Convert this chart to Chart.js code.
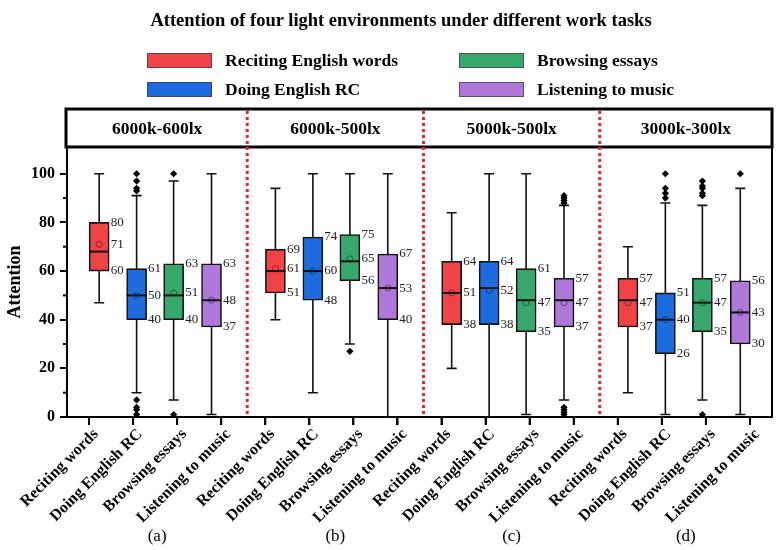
<!DOCTYPE html>
<html>
<head>
<meta charset="utf-8">
<title>Attention of four light environments under different work tasks</title>
<script src="https://cdn.jsdelivr.net/npm/chart.js@4.4.0/dist/chart.umd.min.js"></script>
<style>
  html, body { margin: 0; padding: 0; background: #fff; }
  #wrap { position: relative; width: 782px; height: 550px; font-family: 'Liberation Serif', 'Times New Roman', serif; color: #000; }
  #chart { position: absolute; left: 0; top: 0; }
  #title { position: absolute; left: 0; width: 802px; top: 9px; line-height: 22px; text-align: center; font-weight: bold; font-size: 18.5px; }
  .leg-item { position: absolute; height: 20px; display: flex; align-items: center; font-weight: bold; font-size: 17.5px; white-space: nowrap; }
  .leg-box { width: 63px; height: 13px; margin-right: 13px; border: 1px solid rgba(70, 50, 90, 0.7); }
</style>
</head>
<body>
<div id="wrap">
  <canvas id="chart" width="782" height="550"></canvas>
  <div id="title">Attention of four light environments under different work tasks</div>
  <div id="legend"></div>
</div>
<script>
const groups = ['6000k-600lx', '6000k-500lx', '5000k-500lx', '3000k-300lx'];
const groupTags = ['(a)', '(b)', '(c)', '(d)'];
const tasks = ['Reciting English words', 'Doing English RC', 'Browsing essays', 'Listening to music'];
const taskTicks = ['Reciting words', 'Doing English RC', 'Browsing essays', 'Listening to music'];

// one row per task, one value per light environment (a)..(d)
const whiskerLow  = [[47, 40, 20, 10], [10, 10, 0, 1], [7, 30, 1, 7], [1, 0, 7, 1]];
const q1          = [[60, 51, 38, 37], [40, 48, 38, 26], [40, 56, 35, 35], [37, 40, 37, 30]];
const median      = [[68, 60, 51, 48], [50, 60, 53, 40], [50, 64, 48, 47], [48, 53, 48, 43]];
const mean        = [[71, 61, 51, 47], [50, 60, 52, 40], [51, 65, 47, 47], [48, 53, 47, 43]];
const q3          = [[80, 69, 64, 57], [61, 74, 64, 51], [63, 75, 61, 57], [63, 67, 57, 56]];
const whiskerHigh = [[100, 94, 84, 70], [91, 100, 100, 88], [97, 100, 100, 87], [100, 100, 87, 94]];
const outliers = [
  [[], [], [], []],
  [[100, 97, 94, 93, 7, 4, 3, 1, 0], [], [], [100, 94, 92, 90]],
  [[100, 1], [27], [], [97, 95, 94, 92, 91, 1]],
  [[], [], [91, 90, 89, 88, 4, 3, 2, 1], [100]]
];

// layout / style
const SERIF = "'Liberation Serif', 'Times New Roman', serif";
const colors = ['#EF4347', '#1C6BDF', '#37A86B', '#AF79DC'];
const meanEdge = ['#8c2226', '#123f86', '#1c5e3a', '#5f3a8c'];
const BOX_OFFSETS = [0.23, 1.08, 1.92, 2.78];   // box centres inside a group, in category units
const SEPARATORS = [3.59, 7.59, 11.59];
const CAP = 5;
const boxX = (k, j) => 4 * j + BOX_OFFSETS[k];

// legend in two columns
const legend = document.getElementById('legend');
tasks.forEach((t, i) => {
  const item = document.createElement('div');
  item.className = 'leg-item';
  item.style.left = (i < 2 ? 147 : 459) + 'px';
  item.style.top = (i % 2 === 0 ? 50 : 79) + 'px';
  item.innerHTML = '<span class="leg-box" style="background:' + colors[i] + '"></span>' + t;
  legend.appendChild(item);
});

const boxSets = tasks.map((t, k) => ({
  type: 'bar',
  label: t,
  xAxisID: 'xPos',
  data: groups.map((g, j) => ({ x: boxX(k, j), y: [q1[k][j], q3[k][j]] })),
  backgroundColor: colors[k],
  borderColor: '#111',
  borderWidth: 1.6,
  borderSkipped: false,
  barThickness: 20,
  grouped: false,
  order: 3
}));

const outlierPts = [];
tasks.forEach((t, k) => groups.forEach((g, j) => {
  outliers[k][j].forEach(v => outlierPts.push({ x: boxX(k, j), y: v }));
}));

const meanPts = [];
const meanCols = [];
tasks.forEach((t, k) => groups.forEach((g, j) => {
  meanPts.push({ x: boxX(k, j), y: mean[k][j] });
  meanCols.push(meanEdge[k]);
}));

const decor = {
  id: 'decor',
  beforeDatasetsDraw(chart) {
    const { ctx } = chart;
    const xs = chart.scales.xPos, ys = chart.scales.y;
    ctx.save();
    ctx.strokeStyle = '#111';
    ctx.lineWidth = 1.6;
    tasks.forEach((t, k) => groups.forEach((g, j) => {
      const x = xs.getPixelForValue(boxX(k, j));
      const lo = ys.getPixelForValue(whiskerLow[k][j]);
      const hi = ys.getPixelForValue(whiskerHigh[k][j]);
      ctx.beginPath();
      ctx.moveTo(x, lo); ctx.lineTo(x, hi);
      ctx.moveTo(x - CAP, lo); ctx.lineTo(x + CAP, lo);
      ctx.moveTo(x - CAP, hi); ctx.lineTo(x + CAP, hi);
      ctx.stroke();
    }));
    ctx.restore();
  },
  afterDatasetsDraw(chart) {
    const { ctx } = chart;
    const xs = chart.scales.xPos, ys = chart.scales.y;
    ctx.save();
    ctx.strokeStyle = '#111';
    ctx.lineWidth = 2;
    ctx.fillStyle = '#222';
    ctx.font = '13px ' + SERIF;
    ctx.textBaseline = 'middle';
    ctx.textAlign = 'left';
    tasks.forEach((t, k) => groups.forEach((g, j) => {
      const x = xs.getPixelForValue(boxX(k, j));
      const m = ys.getPixelForValue(median[k][j]);
      ctx.beginPath();
      ctx.moveTo(x - 10, m); ctx.lineTo(x + 10, m);
      ctx.stroke();
      [q3[k][j], mean[k][j], q1[k][j]].forEach(v => {
        ctx.fillText(String(Math.round(v)), x + 11.5, ys.getPixelForValue(v));
      });
    }));
    ctx.restore();
  },
  afterDraw(chart) {
    const { ctx, chartArea: a } = chart;
    const xs = chart.scales.xPos, ys = chart.scales.y, xc = chart.scales.x;
    const headTop = 109;
    ctx.save();
    ctx.strokeStyle = '#000';
    ctx.lineWidth = 2;
    // minor y ticks
    [10, 30, 50, 70, 90].forEach(v => {
      const y = ys.getPixelForValue(v);
      ctx.beginPath(); ctx.moveTo(a.left - 4, y); ctx.lineTo(a.left, y); ctx.stroke();
    });
    // category tick marks
    xc.ticks.forEach((tk, i) => {
      const x = xc.getPixelForTick(i);
      ctx.beginPath(); ctx.moveTo(x, a.bottom); ctx.lineTo(x, a.bottom + 8); ctx.stroke();
    });
    // right frame
    ctx.beginPath(); ctx.moveTo(a.right, a.top); ctx.lineTo(a.right, a.bottom + 1); ctx.stroke();
    // header strip
    ctx.lineWidth = 3;
    ctx.strokeRect(a.left - 1, headTop, a.right - a.left + 1, a.top - headTop);
    // dotted separators
    ctx.strokeStyle = '#E8262B';
    ctx.lineWidth = 3;
    ctx.setLineDash([3, 3]);
    const seps = SEPARATORS.map(s => xs.getPixelForValue(s));
    seps.forEach(x => {
      ctx.beginPath(); ctx.moveTo(x, headTop + 2); ctx.lineTo(x, a.bottom - 1); ctx.stroke();
    });
    ctx.setLineDash([]);
    // group names and tags
    const edges = [a.left].concat(seps, [a.right]);
    ctx.fillStyle = '#000';
    ctx.textAlign = 'center';
    ctx.textBaseline = 'middle';
    groups.forEach((g, j) => {
      const cx = (edges[j] + edges[j + 1]) / 2;
      ctx.font = 'bold 17.5px ' + SERIF;
      ctx.fillText(g, cx, (headTop + a.top) / 2 + 1);
      ctx.font = '17px ' + SERIF;
      ctx.fillText(groupTags[j], cx, 537);
    });
    ctx.restore();
  }
};

new Chart(document.getElementById('chart'), {
  type: 'bar',
  data: {
    labels: groups.flatMap(() => taskTicks),
    datasets: [
      {
        type: 'scatter', label: 'outliers', xAxisID: 'xPos', data: outlierPts,
        pointStyle: 'rectRot', pointRadius: 3.6, backgroundColor: '#000', borderColor: '#000',
        borderWidth: 0, order: 1
      },
      {
        type: 'scatter', label: 'mean', xAxisID: 'xPos', data: meanPts,
        pointStyle: 'circle', pointRadius: 3, backgroundColor: 'rgba(0,0,0,0)',
        borderColor: meanCols, borderWidth: 1, order: 2
      }
    ].concat(boxSets)
  },
  options: {
    responsive: false,
    animation: false,
    layout: { padding: { top: 147, right: 10, left: 0, bottom: 0 } },
    plugins: { legend: { display: false }, tooltip: { enabled: false }, title: { display: false } },
    scales: {
      x: {
        type: 'category',
        offset: true,
        grid: { display: true, drawOnChartArea: false, offset: false, tickLength: 8, tickColor: '#000', tickWidth: 2, color: '#000', lineWidth: 2 },
        border: { display: true, color: '#000', width: 2 },
        ticks: {
          autoSkip: false, minRotation: 45, maxRotation: 45, padding: 0, labelOffset: 7, color: '#000',
          font: { family: SERIF, size: 16, weight: 'bold' }
        },
        afterFit: s => { s.height = 133; }
      },
      xPos: { type: 'linear', display: false, offset: false, bounds: 'data', min: -0.5, max: 15.5 },
      y: {
        min: 0,
        max: 111,
        grid: { drawOnChartArea: false, tickLength: 7, color: '#000', lineWidth: 2 },
        border: { display: true, color: '#000', width: 2 },
        ticks: {
          stepSize: 20, includeBounds: false, padding: 5, color: '#000',
          font: { family: SERIF, size: 16, weight: 'bold' }
        },
        title: {
          display: true, text: 'Attention', color: '#000', padding: { top: 5, bottom: 0 },
          font: { family: SERIF, size: 18, weight: 'bold' }
        },
        afterFit: s => { s.width = 67; }
      }
    }
  },
  plugins: [decor]
});
</script>
</body>
</html>
